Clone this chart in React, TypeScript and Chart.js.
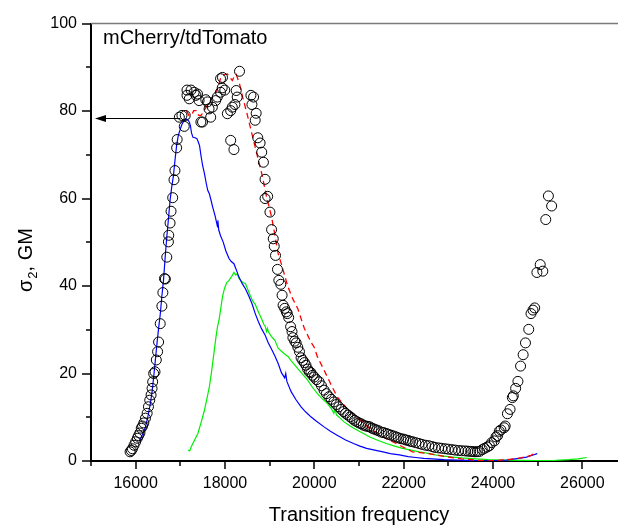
import React, { useEffect, useRef } from 'react';
import { Chart, registerables } from 'chart.js';

Chart.register(...registerables);

// ---- axis ranges / labels ----
const X_MIN = 15000;
const X_MAX = 27000;
const Y_MIN = 0;
const Y_MAX = 100;
const xTitle = 'Transition frequency';
const yTitleMain = 'σ';
const yTitleSub = '2';
const yTitleRest = ', GM';
const sampleLabel = 'mCherry/tdTomato';

// arrow annotation: [start x, tip x], y value
const arrowX = [17000, 15090];
const arrowY = 78.3;

// ---- measured 2PA cross-section (open circles) ----
const circlePoints: [number, number][] = [
  [15875, 2.1], [15900, 2.4], [15927, 2.8], [15963, 3.6], [16000, 4.4], [16037, 5.2], [16065, 5.8],
  [16095, 6.4], [16125, 7.5], [16155, 8.0], [16183, 8.7], [16220, 9.8], [16257, 10.9], [16286, 12.4],
  [16315, 13.9], [16345, 15.1], [16367, 16.6], [16381, 18.1], [16403, 20.0], [16433, 20.4], [16462, 23.1],
  [16491, 25.0], [16513, 27.2], [16550, 31.4], [16587, 35.4], [16609, 38.5], [16645, 41.7], [16665, 41.6],
  [16697, 46.6], [16733, 50.1], [16740, 51.6], [16770, 54.4], [16792, 57.1], [16829, 60.2], [16858, 64.3],
  [16880, 66.4], [16917, 71.6], [16929, 73.5], [16978, 78.6], [17036, 79.0], [17088, 76.5], [17110, 79.0],
  [17149, 84.8], [17149, 83.6], [17200, 82.8], [17240, 84.8], [17310, 84.3], [17350, 83.6], [17385, 83.9],
  [17420, 82.4], [17460, 77.5], [17497, 77.5], [17570, 82.6], [17607, 82.1], [17643, 80.5], [17680, 78.6],
  [17717, 80.9], [17790, 82.4], [17827, 83.2], [17900, 84.3], [17937, 85.3], [17900, 87.4], [17943, 87.7],
  [17995, 84.8], [18053, 79.4], [18127, 80.1], [18163, 80.9], [18222, 81.5], [18273, 83.2], [18251, 84.7],
  [18127, 73.3], [18200, 71.2], [18325, 89.1], [18580, 83.6], [18640, 83.2], [18603, 81.5], [18698, 79.5],
  [18676, 77.9], [18734, 73.9], [18786, 72.7], [18822, 70.6], [18860, 68.3], [18897, 64.4], [18955, 60.5],
  [18897, 60.0], [19006, 56.9], [19043, 52.9], [19080, 50.8], [19102, 49.1], [19131, 47.0], [19175, 43.8],
  [19205, 41.3], [19249, 40.4], [19278, 37.9], [19300, 35.6], [19337, 34.9], [19373, 34.1], [19395, 33.7],
  [19425, 32.8], [19469, 30.7], [19500, 29.6], [19520, 28.2], [19560, 27.4], [19593, 27.0], [19630, 26.0],
  [19667, 25.0], [19703, 23.6], [19740, 23.0], [19777, 22.5], [19813, 21.9], [19850, 21.0], [19887, 20.4],
  [19923, 20.2], [19960, 19.6], [19997, 19.2], [20050, 18.6], [20107, 18.1], [20160, 17.2], [20217, 16.2],
  [20270, 15.4], [20327, 14.7], [20380, 14.1], [20437, 13.5], [20490, 12.9], [20547, 12.4], [20600, 11.8],
  [20657, 11.3], [20700, 10.9], [20750, 10.5], [20803, 10.1], [20850, 9.7], [20900, 9.3], [20950, 9.0],
  [21000, 8.7], [21050, 8.5], [21097, 8.2], [21150, 8.0], [21200, 7.9], [21243, 7.8], [21290, 7.5],
  [21340, 7.3], [21390, 7.1], [21440, 6.9], [21500, 6.6], [21550, 6.5], [21610, 6.3], [21660, 6.1],
  [21720, 5.9], [21780, 5.7], [21830, 5.5], [21880, 5.3], [21940, 5.1], [22000, 5.0], [22050, 4.8],
  [22100, 4.7], [22150, 4.5], [22200, 4.4], [22270, 4.2], [22343, 4.0], [22410, 3.8], [22490, 3.6],
  [22560, 3.5], [22637, 3.3], [22700, 3.1], [22780, 3.0], [22850, 2.9], [22930, 2.8], [23000, 2.7],
  [23080, 2.6], [23150, 2.5], [23230, 2.4], [23300, 2.35], [23380, 2.3], [23440, 2.25], [23500, 2.2],
  [23550, 2.15], [23600, 2.1], [23650, 2.15], [23700, 2.2], [23760, 2.6], [23810, 2.9], [23870, 3.2],
  [23920, 3.5], [23970, 4.2], [24030, 4.6], [24067, 5.5], [24103, 5.8], [24140, 6.8], [24177, 7.1],
  [24250, 7.6], [24272, 8.0], [24323, 10.8], [24382, 11.8], [24433, 14.5], [24455, 14.9], [24507, 16.6],
  [24558, 18.2], [24617, 21.7], [24675, 24.3], [24727, 27.0], [24800, 30.1], [24851, 33.7], [24895, 34.5],
  [24933, 35.0], [24983, 43.1], [25057, 44.9], [25115, 43.4], [25181, 55.2], [25240, 60.6], [25313, 58.3],
];

// ---- blue curve ----
const bluePoints: [number, number][] = [
  [16073, 4.4], [16150, 6.0], [16220, 7.8], [16280, 10.5], [16330, 13.2], [16370, 16.0], [16403, 19.2],
  [16440, 23.0], [16477, 26.9], [16515, 30.5], [16550, 33.5], [16585, 37.5], [16623, 41.3], [16660, 46.5],
  [16697, 51.2], [16735, 55.5], [16770, 59.6], [16807, 62.6], [16843, 65.0], [16880, 68.7], [16915, 72.0],
  [16953, 74.4], [16990, 75.6], [17030, 76.8], [17063, 77.5], [17110, 78.0], [17137, 78.2], [17173, 77.9],
  [17200, 77.5], [17225, 76.7], [17250, 75.0], [17283, 74.0], [17330, 73.9], [17371, 73.7], [17400, 73.0],
  [17430, 72.1], [17467, 69.5], [17500, 67.5], [17540, 65.7], [17580, 63.5], [17613, 61.9], [17650, 61.1],
  [17690, 59.5], [17723, 58.1], [17780, 56.0], [17833, 53.5], [17840, 55.0], [17860, 52.8], [17900, 51.5],
  [17958, 50.1], [18020, 48.0], [18090, 46.3], [18140, 45.6], [18200, 45.1], [18250, 43.8], [18310, 42.1],
  [18383, 40.6], [18457, 39.4], [18530, 37.8], [18603, 36.0], [18677, 33.7], [18750, 31.8], [18820, 30.2],
  [18897, 28.8], [18970, 27.0], [19040, 25.6], [19117, 24.0], [19190, 22.3], [19263, 20.2], [19337, 19.0],
  [19360, 20.0], [19385, 18.2], [19483, 15.8], [19590, 14.0], [19703, 12.4], [19777, 11.5], [19850, 10.8],
  [19923, 10.1], [20033, 9.2], [20217, 7.8], [20360, 6.8], [20510, 5.9], [20700, 4.8], [20877, 4.0],
  [21020, 3.4], [21170, 2.9], [21350, 2.5], [21537, 2.1], [21700, 1.7], [21903, 1.4], [22100, 1.0],
  [22270, 0.8], [22450, 0.6], [22637, 0.5], [22900, 0.3], [23200, 0.2], [23600, 0.1], [24000, 0.05],
  [24300, 0.2], [24500, 0.5], [24650, 0.7], [24750, 0.9], [24850, 1.2], [24990, 1.7],
];

// ---- red dashed curve ----
const redPoints: [number, number][] = [
  [17137, 80.1], [17190, 79.0], [17247, 79.0], [17300, 80.1], [17357, 80.1], [17410, 79.0], [17467, 79.0],
  [17577, 80.9], [17650, 82.0], [17723, 83.2], [17833, 85.1], [17907, 87.7], [17980, 88.3], [18053, 88.5],
  [18110, 87.7], [18163, 87.0], [18210, 88.0], [18251, 88.4], [18325, 86.2], [18400, 83.0], [18493, 79.4],
  [18603, 74.8], [18713, 70.2], [18823, 65.7], [18933, 60.3], [19043, 55.8], [19120, 51.5], [19190, 47.4],
  [19263, 45.0], [19410, 39.8], [19520, 37.0], [19630, 34.8], [19777, 30.3], [19923, 27.2], [19997, 26.0],
  [20070, 23.8], [20217, 20.8], [20363, 17.7], [20510, 14.7], [20730, 12.0], [20950, 10.1], [21243, 7.4],
  [21537, 5.5], [21830, 4.0], [22197, 2.1], [22563, 1.7], [22930, 1.0], [23297, 0.5], [23600, 0.2],
  [23883, 0.0], [24177, 0.2], [24400, 0.4], [24617, 0.7], [24700, 0.9], [24763, 1.0], [24850, 1.3],
  [24920, 1.7],
];

// ---- green curve ----
const greenPoints: [number, number][] = [
  [17173, 2.5], [17210, 2.3], [17247, 3.3], [17320, 4.8], [17393, 6.3], [17470, 9.0], [17540, 11.6],
  [17600, 14.5], [17650, 17.0], [17700, 20.5], [17760, 25.3], [17800, 28.5], [17833, 30.7], [17870, 32.5],
  [17907, 35.0], [17943, 37.5], [17990, 39.5], [18040, 40.8], [18090, 41.3], [18150, 42.2], [18200, 43.1],
  [18240, 42.5], [18273, 42.8], [18310, 41.8], [18347, 41.3], [18400, 40.8], [18457, 40.6], [18510, 39.2],
  [18567, 37.8], [18620, 36.6], [18677, 35.8], [18750, 34.0], [18823, 32.4], [18870, 31.2], [18897, 30.9],
  [18930, 29.6], [18950, 30.3], [18970, 29.6], [19030, 28.6], [19080, 28.0], [19117, 27.6], [19190, 25.8],
  [19263, 25.1], [19340, 24.4], [19410, 23.9], [19483, 22.9], [19560, 22.0], [19630, 21.1], [19740, 19.8],
  [19850, 18.5], [19960, 16.8], [20070, 15.4], [20180, 14.2], [20290, 13.2], [20380, 12.0], [20437, 10.9],
  [20460, 11.8], [20500, 10.5], [20580, 9.8], [20657, 9.0], [20800, 8.0], [20950, 7.1], [21100, 6.3],
  [21243, 5.5], [21430, 4.7], [21610, 4.0], [21800, 3.4], [21977, 2.9], [22160, 2.5], [22343, 2.1],
  [22520, 1.8], [22710, 1.4], [22900, 1.1], [23100, 0.9], [23300, 0.7], [23600, 0.5], [23900, 0.3],
  [24200, 0.2], [24600, 0.15], [25000, 0.1], [25400, 0.15], [25700, 0.3], [25900, 0.5], [26100, 0.8],
];

const FONT = '"Liberation Sans", Arial, sans-serif';

const toXY = (pts: [number, number][]) => pts.map(([x, y]) => ({ x, y }));

const decorPlugin = {
  id: 'decor',
  afterDraw(chart: any) {
    const { ctx, chartArea: ca } = chart;
    const xs = chart.scales.x;
    const ys = chart.scales.y;
    ctx.save();

    // top frame line
    ctx.strokeStyle = '#7a7a7a';
    ctx.lineWidth = 1.5;
    ctx.beginPath();
    ctx.moveTo(ca.left, ca.top);
    ctx.lineTo(ca.right + 10, ca.top);
    ctx.stroke();

    // ticks
    ctx.strokeStyle = '#000';
    ctx.lineWidth = 1.5;
    for (let v = X_MIN; v <= X_MAX; v += 1000) {
      const px = Math.round(xs.getPixelForValue(v));
      const len = v % 2000 === 0 ? 8 : 5;
      ctx.beginPath();
      ctx.moveTo(px, ca.bottom);
      ctx.lineTo(px, ca.bottom + len);
      ctx.stroke();
    }
    for (let v = Y_MIN; v <= Y_MAX; v += 10) {
      const py = Math.round(ys.getPixelForValue(v));
      const len = v % 20 === 0 ? 9 : 5;
      ctx.beginPath();
      ctx.moveTo(ca.left, py);
      ctx.lineTo(ca.left - len, py);
      ctx.stroke();
    }

    // arrow
    const ax0 = xs.getPixelForValue(arrowX[0]);
    const ax1 = xs.getPixelForValue(arrowX[1]);
    const ay = ys.getPixelForValue(arrowY);
    ctx.lineWidth = 1.2;
    ctx.beginPath();
    ctx.moveTo(ax0, ay);
    ctx.lineTo(ax1 + 8, ay);
    ctx.stroke();
    ctx.fillStyle = '#000';
    ctx.beginPath();
    ctx.moveTo(ax1, ay);
    ctx.lineTo(ax1 + 11, ay - 3.5);
    ctx.lineTo(ax1 + 11, ay + 3.5);
    ctx.closePath();
    ctx.fill();

    // sample label
    ctx.fillStyle = '#000';
    ctx.font = `20px ${FONT}`;
    ctx.textAlign = 'left';
    ctx.textBaseline = 'alphabetic';
    ctx.fillText(sampleLabel, ca.left + 12, ca.top + 20);

    // x title
    ctx.textAlign = 'center';
    ctx.fillText(xTitle, (ca.left + ca.right) / 2, ca.bottom + 60);

    // y title (rotated, with subscript)
    ctx.translate(ca.left - 59, 292);
    ctx.rotate(-Math.PI / 2);
    ctx.textAlign = 'left';
    ctx.font = `20px ${FONT}`;
    ctx.fillText(yTitleMain, 0, 0);
    let off = ctx.measureText(yTitleMain).width + 1;
    ctx.font = `13px ${FONT}`;
    ctx.fillText(yTitleSub, off, 5);
    off += ctx.measureText(yTitleSub).width;
    ctx.font = `20px ${FONT}`;
    ctx.fillText(yTitleRest, off, 0);

    ctx.restore();
  },
};

export default function App() {
  const ref = useRef<HTMLCanvasElement | null>(null);

  useEffect(() => {
    if (!ref.current) return;
    const chart = new Chart(ref.current, {
      type: 'scatter',
      data: {
        datasets: [
          {
            label: 'measured',
            data: toXY(circlePoints),
            showLine: false,
            pointStyle: 'circle',
            pointRadius: 5,
            pointBorderWidth: 1,
            pointBorderColor: '#000',
            pointBackgroundColor: 'rgba(0,0,0,0)',
            borderColor: '#000',
            backgroundColor: 'rgba(0,0,0,0)',
          },
          {
            label: 'red',
            data: toXY(redPoints),
            showLine: true,
            borderColor: '#ff0000',
            borderWidth: 1.3,
            borderDash: [6, 4],
            pointRadius: 0,
            tension: 0,
          },
          {
            label: 'blue',
            data: toXY(bluePoints),
            showLine: true,
            borderColor: '#0000ff',
            borderWidth: 1.2,
            pointRadius: 0,
            tension: 0,
          },
          {
            label: 'green',
            data: toXY(greenPoints),
            showLine: true,
            borderColor: '#00ee00',
            borderWidth: 1.2,
            pointRadius: 0,
            tension: 0,
          },
        ],
      },
      options: {
        animation: false,
        responsive: false,
        maintainAspectRatio: false,
        layout: { padding: { left: 0, top: 23, right: 5, bottom: 0 } },
        plugins: {
          legend: { display: false },
          tooltip: { enabled: false },
          title: { display: false },
        },
        scales: {
          x: {
            type: 'linear',
            min: X_MIN,
            max: X_MAX,
            afterFit: (s: any) => { s.height = 68; },
            grid: { display: false, drawTicks: false },
            border: { display: true, color: '#000', width: 2 },
            ticks: {
              stepSize: 1000,
              autoSkip: false,
              maxRotation: 0,
              padding: 13,
              color: '#000',
              font: { family: FONT, size: 16 },
              callback: (v: any) => (Number(v) % 2000 === 0 ? String(v) : ''),
            },
          },
          y: {
            type: 'linear',
            min: Y_MIN,
            max: Y_MAX,
            afterFit: (s: any) => { s.width = 91; },
            grid: { display: false, drawTicks: false },
            border: { display: true, color: '#000', width: 2 },
            ticks: {
              stepSize: 10,
              autoSkip: false,
              padding: 14,
              color: '#000',
              font: { family: FONT, size: 16 },
              callback: (v: any) => (Number(v) % 20 === 0 ? String(v) : ''),
            },
          },
        },
      },
      plugins: [decorPlugin],
    });
    return () => chart.destroy();
  }, []);

  return (
    <div
      style={{
        position: 'absolute',
        left: 0,
        top: 0,
        width: 618,
        height: 529,
        overflow: 'hidden',
        background: '#fff',
      }}
    >
      <canvas ref={ref} width={640} height={529} style={{ display: 'block', width: 640, height: 529 }} />
    </div>
  );
}
